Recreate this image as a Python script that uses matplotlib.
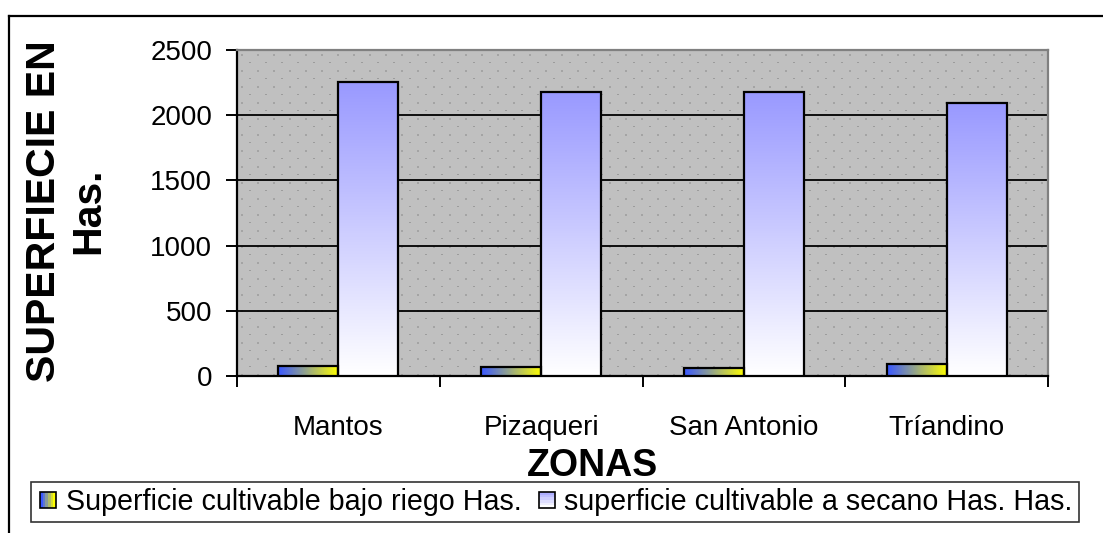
import matplotlib
matplotlib.use("Agg")
import matplotlib.pyplot as plt
import numpy as np
from matplotlib.colors import LinearSegmentedColormap
from matplotlib.legend_handler import HandlerBase
from matplotlib.lines import Line2D
from matplotlib.patches import Rectangle

plt.rcParams["font.family"] = ["Liberation Sans", "DejaVu Sans"]

zonas = ["Mantos", "Pizaqueri", "San Antonio", "Tríandino"]
riego = [75, 72, 60, 90]
secano = [2255, 2180, 2180, 2090]
series_names = ["Superficie cultivable bajo riego Has.",
                "superficie cultivable a secano Has. Has."]
yticks = [0, 500, 1000, 1500, 2000, 2500]

W, H = 1103, 533
fig = plt.figure(figsize=(W / 100, H / 100), dpi=100)
L, R, T, B = 237, 1048, 50, 376
ax = fig.add_axes([L / W, 1 - B / H, (R - L) / W, (B - T) / H])

# dotted gray background texture
pw, ph = R - L, B - T
tex = np.full((ph, pw, 3), 0xC0 / 255)
for r in range(4, ph, 8):
    odd = (r // 8) % 2
    for c in range((8 if odd else 0) + 4, pw, 16):
        if odd:
            tex[r, c:c + 2] = 0x9C / 255
        else:
            tex[r:r + 2, c:c + 2] = 0xA4 / 255
ax.imshow(tex, extent=[0, 1, 0, 1], transform=ax.transAxes,
          aspect="auto", interpolation="nearest", zorder=0)

blue_yellow = LinearSegmentedColormap.from_list("by", ["#3a58ff", "#ffff00"])
lilac_white = LinearSegmentedColormap.from_list("lw", ["#ffffff", "#9999ff"])

w = 0.296
centers = np.arange(len(zonas)) + 0.5
for c, v in zip(centers, riego):
    bar = ax.bar(c - w, v, w, align="edge", facecolor="none",
                 edgecolor="black", linewidth=1.6, zorder=4)[0]
    im = ax.imshow(np.linspace(0, 1, 64).reshape(1, -1), cmap=blue_yellow,
                   extent=[c - w, c, 0, v], aspect="auto", zorder=3)
    im.set_clip_path(bar)
for c, v in zip(centers, secano):
    bar = ax.bar(c, v, w, align="edge", facecolor="none",
                 edgecolor="black", linewidth=1.6, zorder=4)[0]
    im = ax.imshow(np.linspace(1, 0, 128).reshape(-1, 1), cmap=lilac_white,
                   extent=[c, c + w, 0, v], aspect="auto", zorder=3)
    im.set_clip_path(bar)

ax.set_xlim(0, len(zonas))
ax.set_ylim(0, 2500)
ax.set_yticks(yticks)
ax.set_yticklabels([str(t) for t in yticks], fontsize=20)
ax.set_xticks(np.arange(len(zonas) + 1))
ax.set_xticklabels([])
ax.set_xticks(centers, minor=True)
ax.set_xticklabels(zonas, minor=True, fontsize=20)
ax.tick_params(axis="x", which="minor", length=0, pad=28)
ax.tick_params(axis="both", which="major", direction="out", length=8,
               width=1.4, color="black")
ax.tick_params(axis="y", pad=10)
for t in yticks[1:-1]:
    ax.axhline(t, color="black", linewidth=1.3, zorder=2)
for s in ["left", "bottom"]:
    ax.spines[s].set_color("black")
    ax.spines[s].set_linewidth(1.6)
for s in ["top", "right"]:
    ax.spines[s].set_color("#808080")
    ax.spines[s].set_linewidth(1.6)

fig.text(66 / W, 1 - 211 / H, "SUPERFIECIE EN\nHas.", rotation=90,
         ha="center", va="center", fontsize=29.5, fontweight="bold",
         multialignment="center", linespacing=1.2)
fig.text(593 / W, 1 - 466 / H, "ZONAS", ha="center", va="center",
         fontsize=27, fontweight="bold")


class GradientSquare(HandlerBase):
    def __init__(self, colors, horizontal):
        super().__init__()
        self.colors = colors
        self.horizontal = horizontal

    def create_artists(self, legend, orig, xd, yd, width, height, fontsize, trans):
        n = len(self.colors)
        size = height * 0.8
        x0 = xd + (width - size) / 2
        y0 = yd + (height - size) / 2
        arts = []
        for i, col in enumerate(self.colors):
            if self.horizontal:
                r = Rectangle((x0 + i * size / n, y0), size / n, size,
                              facecolor=col, edgecolor="none", transform=trans)
            else:
                r = Rectangle((x0, y0 + size - (i + 1) * size / n), size, size / n,
                              facecolor=col, edgecolor="none", transform=trans)
            arts.append(r)
        arts.append(Rectangle((x0, y0), size, size, facecolor="none",
                              edgecolor="black", linewidth=1.2, transform=trans))
        return arts


h1 = GradientSquare([blue_yellow(x) for x in np.linspace(0, 1, 6)], True)
h2 = GradientSquare([lilac_white(x) for x in np.linspace(0.8, 0, 6)], False)
p1, p2 = Line2D([], []), Line2D([], [])
leg = fig.legend([p1, p2], series_names, handler_map={p1: h1, p2: h2},
                 loc="center", bbox_to_anchor=(555 / W, 1 - 502 / H),
                 ncol=2, fontsize=20.6, frameon=True, fancybox=False,
                 borderpad=0.2, handlelength=0.75, handleheight=0.7,
                 handletextpad=0.25, columnspacing=0.5, borderaxespad=0)
leg.get_frame().set_edgecolor("black")
leg.get_frame().set_linewidth(1.2)

fig.add_artist(Line2D([9 / W, 1], [1 - 16 / H, 1 - 16 / H], color="black",
                      linewidth=1.6, transform=fig.transFigure))
fig.add_artist(Line2D([9 / W, 9 / W], [0, 1 - 16 / H], color="black",
                      linewidth=1.6, transform=fig.transFigure))

fig.savefig("out.png", dpi=100)
